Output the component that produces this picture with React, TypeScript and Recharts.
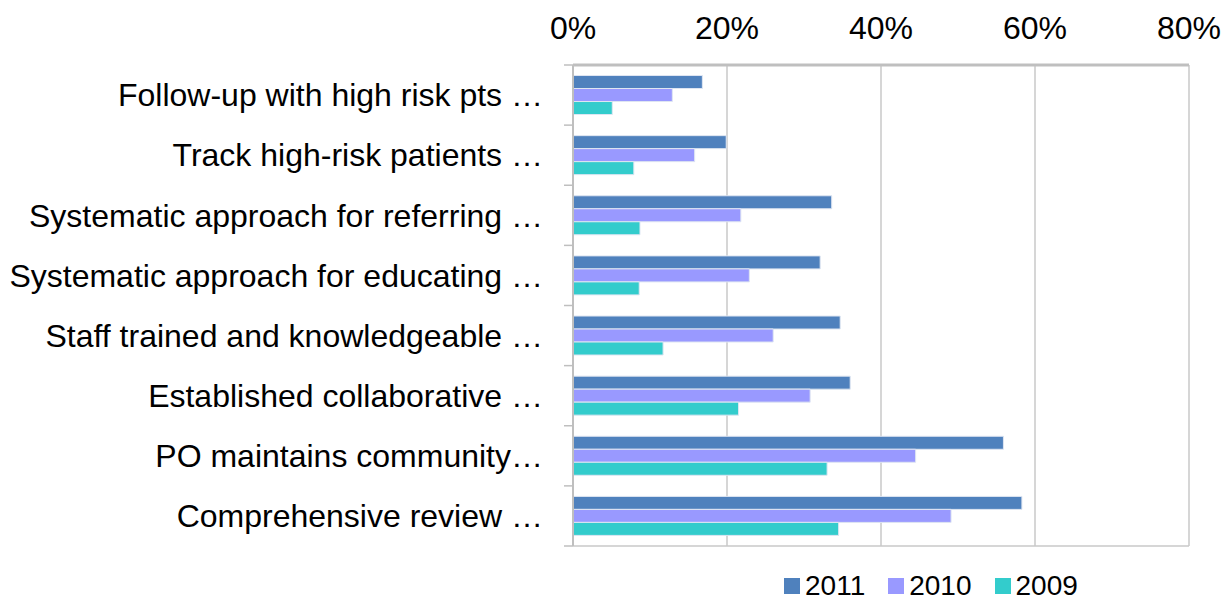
import React from "react";
import { BarChart, Bar, XAxis, YAxis, CartesianGrid, Legend } from "recharts";

const categories = [
  "Follow-up with high risk pts …",
  "Track high-risk patients …",
  "Systematic approach for referring …",
  "Systematic approach for educating …",
  "Staff trained and knowledgeable …",
  "Established collaborative …",
  "PO maintains community…",
  "Comprehensive review …",
];

const values2011 = [16.8, 19.9, 33.6, 32.1, 34.7, 36.0, 55.9, 58.3];
const values2010 = [12.9, 15.8, 21.8, 22.9, 26.0, 30.8, 44.5, 49.1];
const values2009 = [5.1, 7.9, 8.7, 8.6, 11.7, 21.5, 33.0, 34.5];

const xTicks = [0, 20, 40, 60, 80];

const series = [
  { key: "y2011", name: "2011", color: "#4F81BD" },
  { key: "y2010", name: "2010", color: "#9999FF" },
  { key: "y2009", name: "2009", color: "#33CCCC" },
];

const data = categories.map((name, i) => ({
  name,
  y2011: values2011[i],
  y2010: values2010[i],
  y2009: values2009[i],
}));

const W = 1228;
const H = 603;
const TOP_AXIS = 65;
const LEGEND_H = 57;
const FONT = "'Liberation Sans', Arial, sans-serif";
const band = (H - TOP_AXIS - LEGEND_H) / categories.length;

const CategoryTick = (props: any) => {
  const { x, y, payload, index } = props;
  const lx = x + 21;
  return (
    <g>
      <line x1={lx} x2={lx + 9} y1={y - band / 2} y2={y - band / 2} stroke="#bfbfbf" strokeWidth={1.5} />
      {index === categories.length - 1 && (
        <line x1={lx} x2={lx + 9} y1={y + band / 2} y2={y + band / 2} stroke="#bfbfbf" strokeWidth={1.5} />
      )}
      <text x={x} y={y} dy="0.35em" textAnchor="end" fill="#000" fontSize={32} fontFamily={FONT}>
        {payload.value}
      </text>
    </g>
  );
};

const LegendContent = () => (
  <div
    style={{
      height: LEGEND_H,
      display: "flex",
      alignItems: "flex-start",
      paddingLeft: 784,
      paddingTop: 28,
      boxSizing: "border-box",
      fontFamily: FONT,
      fontSize: 28,
      lineHeight: "24px",
      color: "#000",
    }}
  >
    {series.map((s) => (
      <div key={s.key} style={{ display: "flex", alignItems: "center", marginRight: 23, height: 24 }}>
        <span style={{ width: 16, height: 16, background: s.color, display: "inline-block", marginRight: 5 }} />
        <span>{s.name}</span>
      </div>
    ))}
  </div>
);

export default function App() {
  return (
    <div style={{ position: "absolute", left: 0, top: 0, width: W, height: H, background: "#fff" }}>
      <BarChart
        width={W}
        height={H}
        data={data}
        layout="vertical"
        margin={{ top: 0, right: 39, bottom: 0, left: 0 }}
        barCategoryGap="17.5%"
        barGap={0}
      >
        <CartesianGrid
          stroke="#c8c8c8"
          strokeWidth={1.5}
          horizontalCoordinatesGenerator={({ offset }: any) => [offset.top, offset.top + offset.height]}
        />
        <XAxis
          type="number"
          orientation="top"
          domain={[0, 80]}
          ticks={xTicks}
          height={TOP_AXIS}
          tickFormatter={(v) => `${v}%`}
          tickLine={false}
          tickSize={0}
          tickMargin={26}
          axisLine={{ stroke: "#bfbfbf", strokeWidth: 3 }}
          tick={{ fill: "#000", fontSize: 32, fontFamily: FONT }}
        />
        <YAxis
          type="category"
          dataKey="name"
          width={573}
          tickLine={false}
          tickSize={0}
          tickMargin={30}
          axisLine={{ stroke: "#bfbfbf", strokeWidth: 2 }}
          tick={<CategoryTick />}
          interval={0}
        />
        <Legend verticalAlign="bottom" height={LEGEND_H} content={<LegendContent />} />
        {series.map((s) => (
          <Bar
            key={s.key}
            dataKey={s.key}
            name={s.name}
            fill={s.color}
            stroke="#dfe6f2"
            strokeWidth={1}
            isAnimationActive={false}
          />
        ))}
      </BarChart>
    </div>
  );
}
